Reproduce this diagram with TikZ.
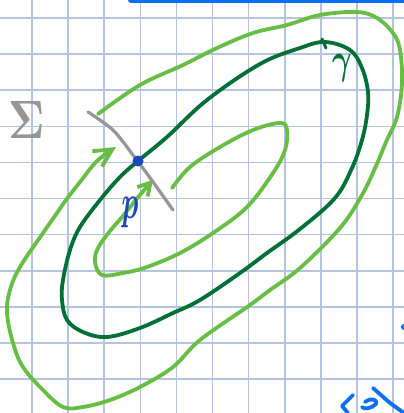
\documentclass[tikz,border=0pt]{standalone}
\usepackage{xcolor}
\usepackage{graphicx}
\usepackage{bm}
\usepackage{tikz}
\usetikzlibrary{arrows.meta}

\definecolor{gridblue}{RGB}{180,196,222}
\definecolor{lime}{RGB}{104,190,68}
\definecolor{orbitgreen}{RGB}{0,112,54}
\definecolor{penblue}{RGB}{28,72,190}
\definecolor{brightblue}{RGB}{14,112,240}
\definecolor{pengray}{RGB}{150,150,150}

\begin{document}
\begin{tikzpicture}[x=1pt, y=-1pt, line cap=round, line join=round,
  pen/.style={line width=3.8pt},
  flow/.style={pen, lime, -{Straight Barb[length=18pt, width=18pt]}},
  flowsmall/.style={pen, lime, -{Straight Barb[length=12pt, width=14pt]}},
  label/.style={inner sep=0pt}]
\clip (0,0) rectangle (404,413);
\fill[white] (0,0) rectangle (404,413);
% Squared paper
\foreach \i in {0,...,10} {
  \draw[gridblue, line width=1.6pt] (32+36.1*\i,0) -- (32+36.1*\i,413);
  \draw[gridblue, line width=1.6pt] (0,18+36.1*\i) -- (404,18+36.1*\i);
}

% Periodic orbit
\draw[pen, orbitgreen] plot[smooth cycle, tension=0.6] coordinates {
  (138,161) (167,137) (207,100) (260,64) (300,48) (325,42) (350,50)
  (362,68) (368,92) (367,115) (362,140) (352,168) (335,198) (300,229)
  (267,253) (240,273) (200,300) (173,313) (140,328) (107,337) (83,332)
  (67,320) (62,300) (63,280) (70,250) (80,227) (100,200) (120,177)};
\draw[orbitgreen, line width=3pt] (322,39) -- (326,48);
\node[label, orbitgreen] (gam) at (342,68) {\scalebox{3}[4.3]{$\bm{\gamma}$}};

% Outer trajectory
\draw[flow] plot[smooth, tension=0.6] coordinates {
  (98,114) (140,85) (183,65) (217,48) (253,33) (287,25) (320,15) (357,12)
  (377,18) (393,33) (400,50) (402,83) (397,117) (386,142) (376,166)
  (362,195) (340,228) (300,268) (270,290) (250,305) (200,340) (173,367)
  (140,387) (110,400) (83,407) (63,407) (43,390) (23,367) (13,343)
  (7,313) (10,290) (20,267) (43,233) (57,213) (66,200) (80,182)
  (97,161) (116,147)};

% Inner trajectory
\draw[flowsmall] plot[smooth, tension=0.6] coordinates {
  (172,188) (190,167) (220,147) (253,130) (280,123) (287,130) (285,150)
  (273,173) (247,207) (213,233) (180,253) (147,267) (123,273) (102,275)
  (95,262) (98,248) (110,231) (123,216) (139,196) (153,180)};

% Section
\draw[pengray, line width=3.2pt] plot[smooth, tension=0.5] coordinates {
  (88,112) (113,130) (133,155) (148,175) (173,210)};
\node[label, pengray] (sig) at (27,120) {\scalebox{4.4}[5.4]{$\bm{\Sigma}$}};

% Fixed point
\coordinate (fix) at (138,161);
\fill[penblue] (fix) circle (5.5pt);
\node[label, penblue] (pt) at (130,212) {\scalebox{2.8}[4.8]{$\bm{p}$}};

% Strokes cut by the edge
\draw[brightblue, line width=6pt] (131,0) -- (404,0);
\draw[brightblue, line width=3.8pt] (353,395) -- (342,406) -- (348,413);
\draw[brightblue, line width=3.8pt] (365,402) .. controls (372,397) and (378,400) .. (376,404)
  .. controls (372,408) and (364,410) .. (362,407);
\draw[brightblue, line width=3.8pt] (373,388) -- (390,403) -- (404,413);
\fill[brightblue] (404,327) circle (3pt);
\end{tikzpicture}
\end{document}
